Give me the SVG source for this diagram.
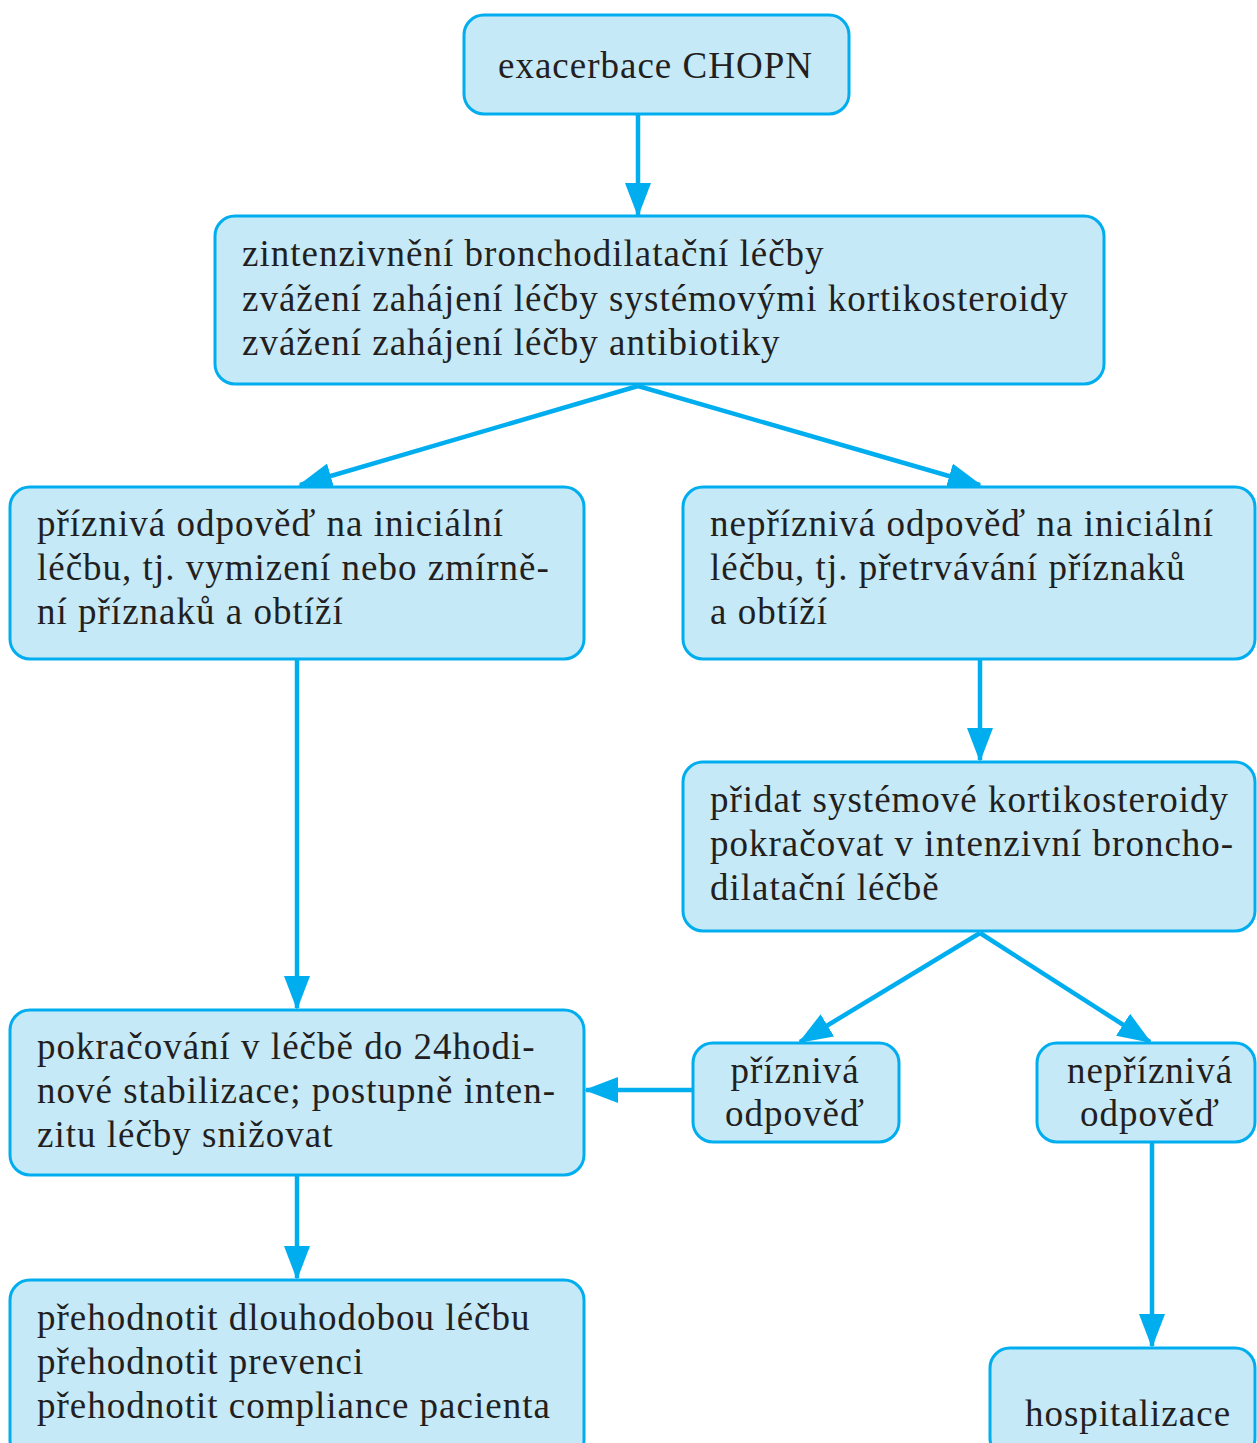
<svg xmlns="http://www.w3.org/2000/svg" width="1257" height="1443" viewBox="0 0 1257 1443">
<style>
.box{fill:#C6E9F8;stroke:#00AEEF;stroke-width:3}
.t{font-family:"Liberation Serif","Times New Roman",serif;font-size:37px;letter-spacing:1px;fill:#231F20}
.c{text-anchor:middle}
.ln{stroke:#00AEEF;stroke-width:4.5;fill:none}
</style>
<defs>
<marker id="ah" markerUnits="userSpaceOnUse" markerWidth="34" markerHeight="26" refX="32" refY="13" orient="auto">
<path d="M0,0 L34,13 L0,26 Z" fill="#00AEEF"/>
</marker>
</defs>
<rect width="1257" height="1443" fill="#fff"/>
<g id="connectors">
<line class="ln" x1="638" y1="114" x2="638" y2="215" marker-end="url(#ah)"/>
<line class="ln" x1="638" y1="386" x2="300" y2="485" marker-end="url(#ah)"/>
<line class="ln" x1="638" y1="386" x2="980" y2="485" marker-end="url(#ah)"/>
<line class="ln" x1="297" y1="659" x2="297" y2="1008" marker-end="url(#ah)"/>
<line class="ln" x1="980" y1="659" x2="980" y2="760" marker-end="url(#ah)"/>
<line class="ln" x1="980" y1="933" x2="800" y2="1042" marker-end="url(#ah)"/>
<line class="ln" x1="980" y1="933" x2="1150" y2="1042" marker-end="url(#ah)"/>
<line class="ln" x1="693" y1="1090" x2="586" y2="1090" marker-end="url(#ah)"/>
<line class="ln" x1="297" y1="1175" x2="297" y2="1278" marker-end="url(#ah)"/>
<line class="ln" x1="1152" y1="1142" x2="1152" y2="1346" marker-end="url(#ah)"/>
</g>
<g id="n1">
<rect class="box" x="464" y="15" width="385" height="99" rx="20"/>
<text class="t" x="498" y="78">exacerbace CHOPN</text>
</g>
<g id="n2">
<rect class="box" x="215" y="216" width="889" height="168" rx="20"/>
<text class="t" x="242" y="266">zintenzivnění bronchodilatační léčby</text>
<text class="t" x="242" y="311">zvážení zahájení léčby systémovými kortikosteroidy</text>
<text class="t" x="242" y="355">zvážení zahájení léčby antibiotiky</text>
</g>
<g id="n3">
<rect class="box" x="10" y="487" width="574" height="172" rx="20"/>
<text class="t" x="37" y="536">příznivá odpověď na iniciální</text>
<text class="t" x="37" y="580">léčbu, tj. vymizení nebo zmírně-</text>
<text class="t" x="37" y="624">ní příznaků a obtíží</text>
</g>
<g id="n4">
<rect class="box" x="683" y="487" width="572" height="172" rx="20"/>
<text class="t" x="710" y="536">nepříznivá odpověď na iniciální</text>
<text class="t" x="710" y="580">léčbu, tj. přetrvávání příznaků</text>
<text class="t" x="710" y="624">a obtíží</text>
</g>
<g id="n5">
<rect class="box" x="683" y="762" width="572" height="169" rx="20"/>
<text class="t" x="710" y="812">přidat systémové kortikosteroidy</text>
<text class="t" x="710" y="856">pokračovat v intenzivní broncho-</text>
<text class="t" x="710" y="900">dilatační léčbě</text>
</g>
<g id="n6">
<rect class="box" x="10" y="1010" width="574" height="165" rx="20"/>
<text class="t" x="37" y="1059">pokračování v léčbě do 24hodi-</text>
<text class="t" x="37" y="1103">nové stabilizace; postupně inten-</text>
<text class="t" x="37" y="1147">zitu léčby snižovat</text>
</g>
<g id="n7">
<rect class="box" x="693" y="1043" width="206" height="99" rx="20"/>
<text class="t c" x="795" y="1083">příznivá</text>
<text class="t c" x="795" y="1126">odpověď</text>
</g>
<g id="n8">
<rect class="box" x="1037" y="1043" width="218" height="99" rx="20"/>
<text class="t c" x="1150" y="1083">nepříznivá</text>
<text class="t c" x="1150" y="1126">odpověď</text>
</g>
<g id="n9">
<rect class="box" x="10" y="1280" width="574" height="180" rx="20"/>
<text class="t" x="37" y="1330">přehodnotit dlouhodobou léčbu</text>
<text class="t" x="37" y="1374">přehodnotit prevenci</text>
<text class="t" x="37" y="1418">přehodnotit compliance pacienta</text>
</g>
<g id="n10">
<rect class="box" x="990" y="1348" width="265" height="110" rx="20"/>
<text class="t c" x="1128" y="1426">hospitalizace</text>
</g>
</svg>
